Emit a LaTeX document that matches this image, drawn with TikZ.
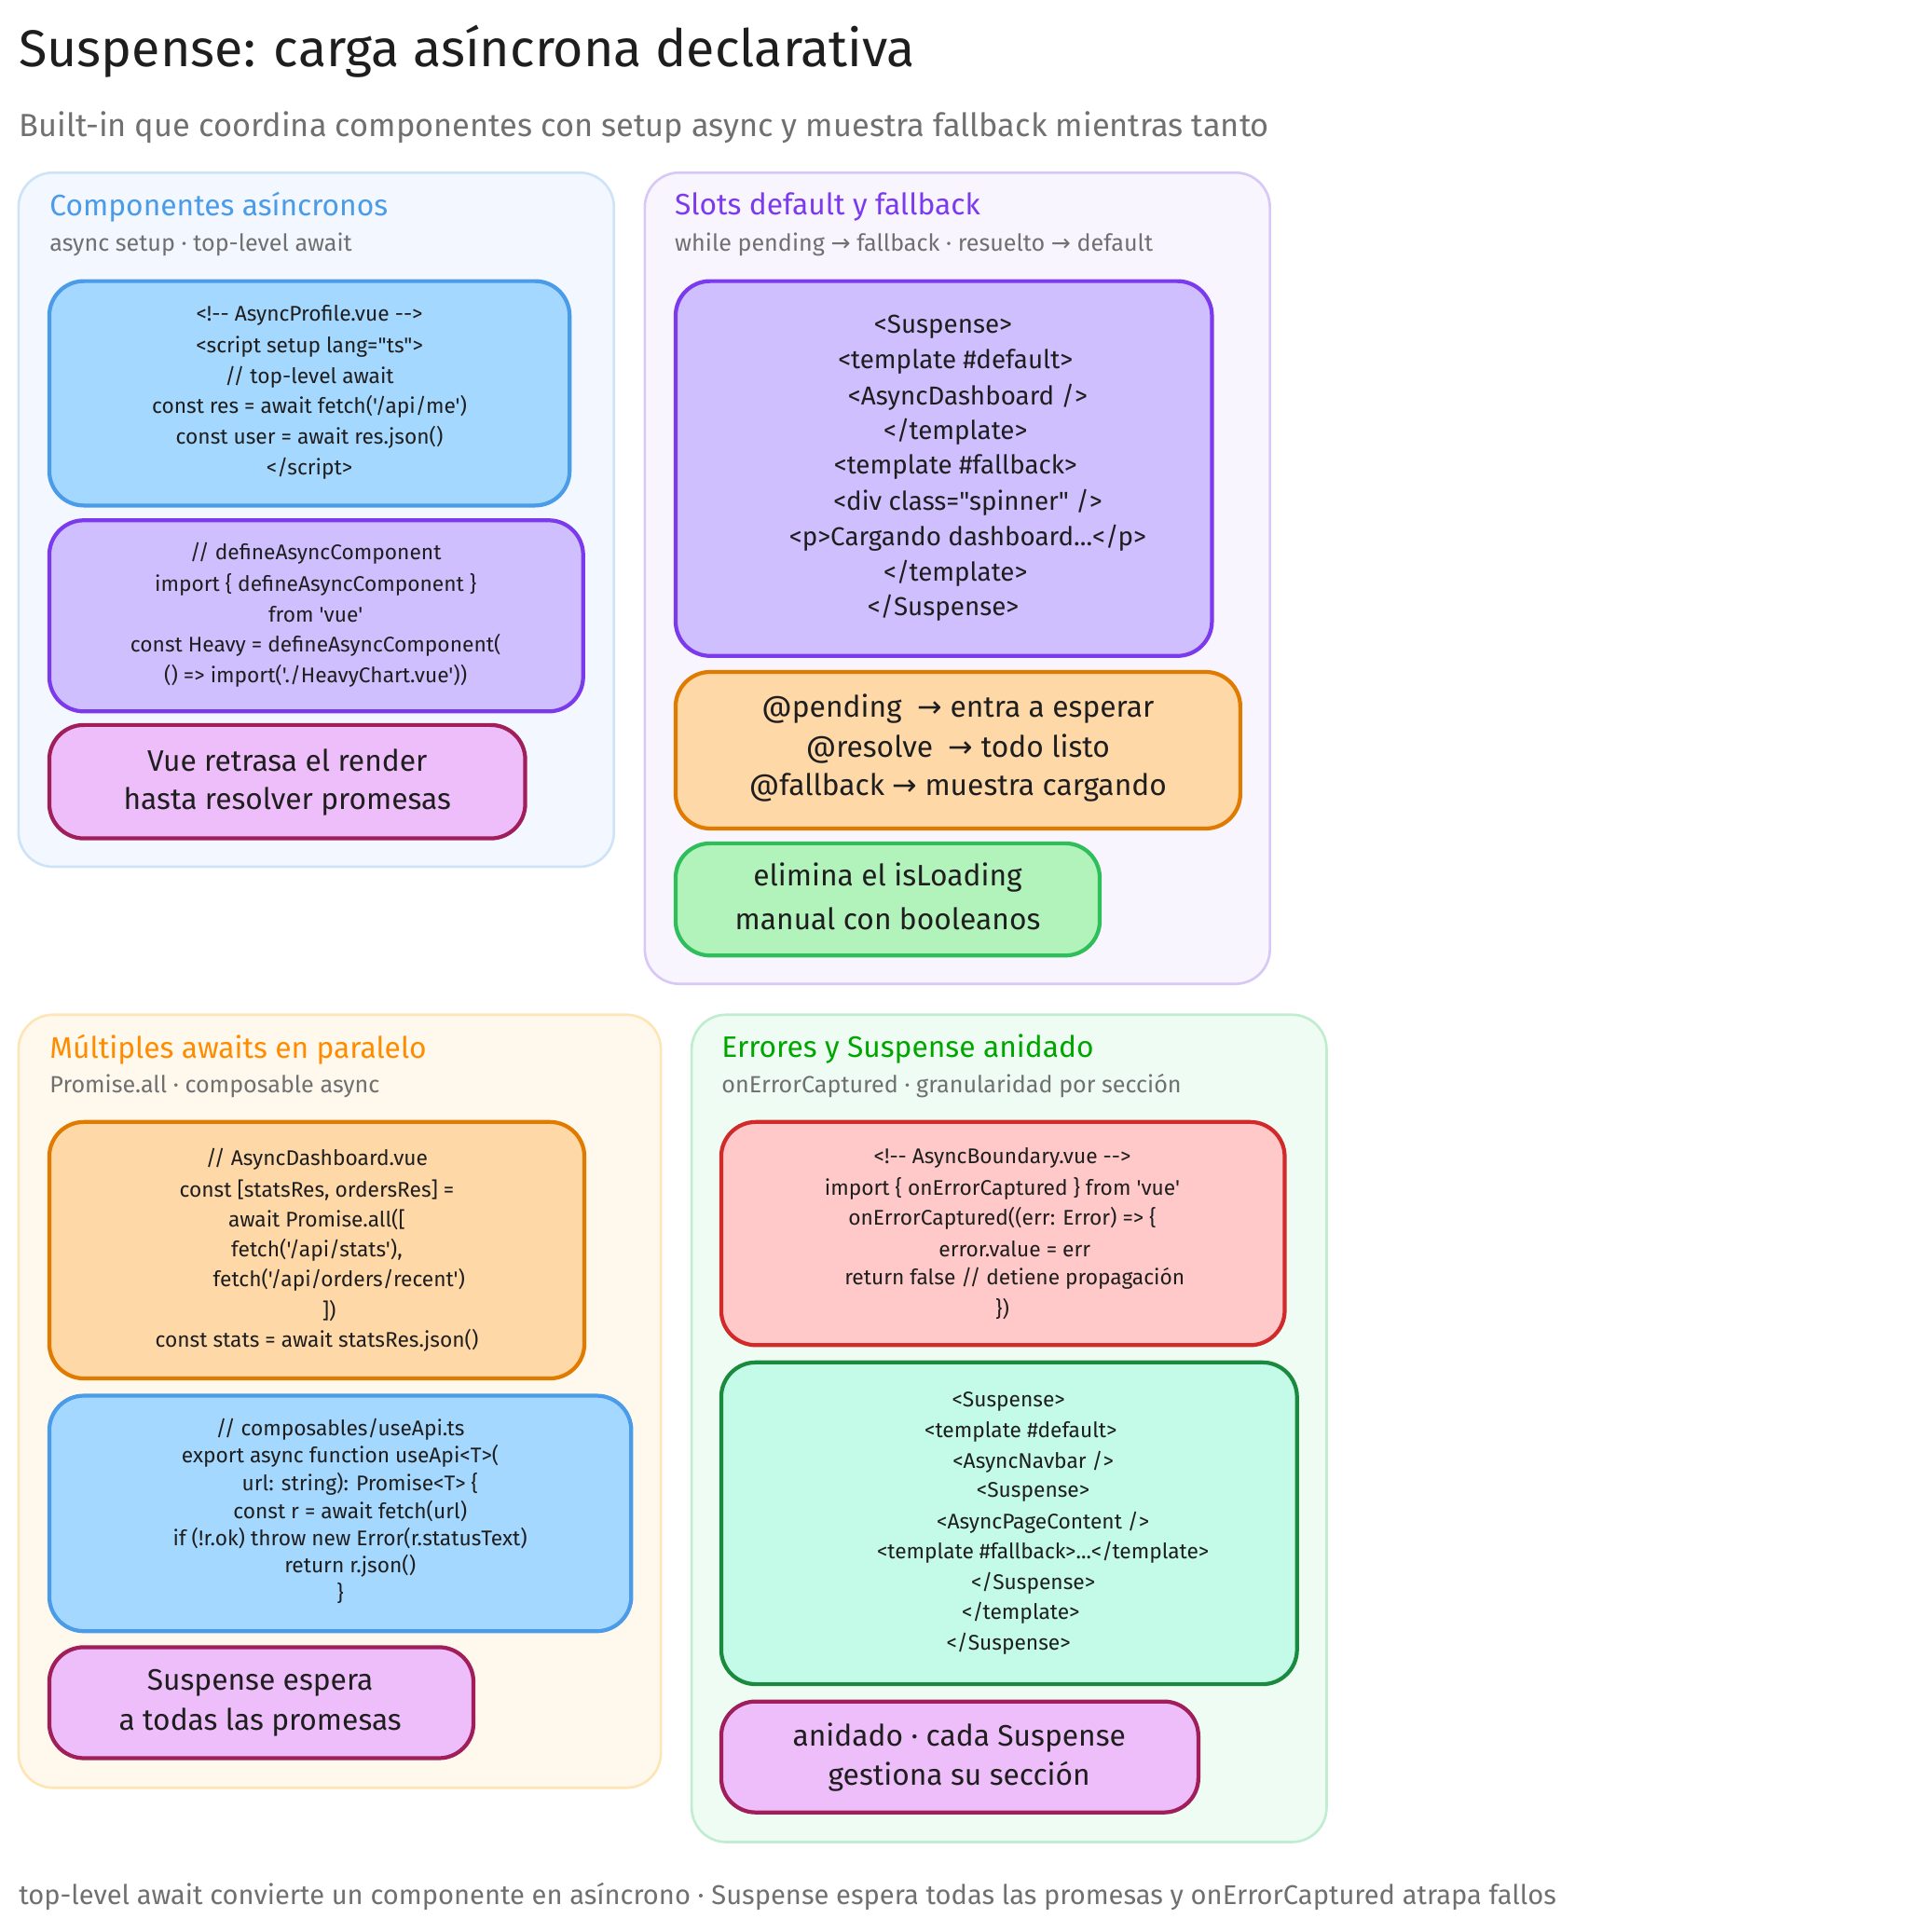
\documentclass[tikz,border=0pt]{standalone}
\usepackage{fontspec}
\setmainfont{Fira Sans}[Ligatures=TeXOff]
\newfontfamily\sym{DejaVu Sans}
\newcommand\ar{{\sym →}}
\definecolor{ink}{HTML}{1E1E1E}
\definecolor{gr}{HTML}{707070}
\definecolor{bluef}{HTML}{A5D8FF}\definecolor{blueb}{HTML}{4A9BE8}
\definecolor{vf}{HTML}{D0BFFF}\definecolor{vb}{HTML}{7C3AED}
\definecolor{pf}{HTML}{EEBEFA}\definecolor{pb}{HTML}{A01E5A}
\definecolor{of}{HTML}{FFD8A8}\definecolor{ob}{HTML}{E07B00}
\definecolor{gf}{HTML}{B2F2BB}\definecolor{gb}{HTML}{2FBF5A}
\definecolor{rf}{HTML}{FFC9C9}\definecolor{rb}{HTML}{D02A2A}
\definecolor{tf}{HTML}{C3FAE8}\definecolor{tb}{HTML}{1A8A3F}
\definecolor{p1f}{HTML}{F3F7FF}\definecolor{p1b}{HTML}{CFE3F7}
\definecolor{p2f}{HTML}{F8F5FF}\definecolor{p2b}{HTML}{D8C8F5}
\definecolor{p3f}{HTML}{FFF9ED}\definecolor{p3b}{HTML}{FDE5B5}
\definecolor{p4f}{HTML}{EEFCF3}\definecolor{p4b}{HTML}{C0ECD0}
\tikzset{
 panel/.style={draw=#1,line width=1pt,rounded corners=14pt},
 box/.style={draw=#1,line width=1.6pt,rounded corners=14pt},
 code/.style={font=\fontsize{8.6}{10}\selectfont,text=ink,anchor=center},
 dcode/.style={font=\fontsize{10.5}{12}\selectfont,text=ink,anchor=center},
 big/.style={font=\fontsize{12}{14}\selectfont,text=ink,anchor=center},
 ptitle/.style={font=\fontsize{12}{14}\selectfont,anchor=west,inner sep=0pt},
 psub/.style={font=\fontsize{9.5}{11}\selectfont,text=gr,anchor=west,inner sep=0pt},
}
\newcommand\mytxt[5]{\node[#1] (#2) at (#3,#4) {#5};}
\begin{document}
\begin{tikzpicture}[x=0.5pt,y=-0.5pt]
\useasboundingbox (0,0) rectangle (1566,1567);
\node[anchor=west,inner sep=0pt,font=\fontsize{21}{24}\selectfont,text=ink] (title) at (15,42) {Suspense: carga asíncrona declarativa};
\node[anchor=west,inner sep=0pt,font=\fontsize{13}{15}\selectfont,text=gr] (subtitle) at (15,103) {Built-in que coordina componentes con setup async y muestra fallback mientras tanto};
% panel 1
\draw[panel=p1b,fill=p1f] (15,140) rectangle (498,703);
\node[ptitle,text=blueb] (p1t) at (40,168) {Componentes asíncronos};
\node[psub] (p1s) at (40,198) {async setup · top-level await};
\draw[box=blueb,fill=bluef] (40,228) rectangle (462,410);
\mytxt{code}{a1}{251}{256}{<!-- AsyncProfile.vue -->}
\mytxt{code}{a2}{251}{281}{<script setup lang="ts">}
\mytxt{code}{a3}{251}{306}{// top-level await}
\mytxt{code}{a4}{251}{330}{const res = await fetch('/api/me')}
\mytxt{code}{a5}{251}{355}{const user = await res.json()}
\mytxt{code}{a6}{251}{380}{</script>}
\draw[box=vb,fill=vf] (40,422) rectangle (473,577);
\mytxt{code}{b1}{256}{449}{// defineAsyncComponent}
\mytxt{code}{b2}{256}{474}{import \{ defineAsyncComponent \}}
\mytxt{code}{b3}{256}{498}{from 'vue'}
\mytxt{code}{b4}{256}{523}{const Heavy = defineAsyncComponent(}
\mytxt{code}{b5}{256}{548}{() => import('./HeavyChart.vue'))}
\draw[box=pb,fill=pf] (40,588) rectangle (426,680);
\mytxt{big}{c1}{233}{617}{Vue retrasa el render}
\mytxt{big}{c2}{233}{650}{hasta resolver promesas}
% panel 2
\draw[panel=p2b,fill=p2f] (523,140) rectangle (1030,798);
\node[ptitle,text=vb] (p2t) at (547,168) {Slots default y fallback};
\node[psub] (p2s) at (547,198) {while pending \ar{} fallback · resuelto \ar{} default};
\draw[box=vb,fill=vf] (548,228) rectangle (983,532);
\mytxt{dcode}{d1}{765}{265}{<Suspense>}
\mytxt{dcode}{d2}{775}{293}{<template \#default>}
\mytxt{dcode}{d3}{785}{322}{<AsyncDashboard />}
\mytxt{dcode}{d4}{775}{350}{</template>}
\mytxt{dcode}{d5}{775}{379}{<template \#fallback>}
\mytxt{dcode}{d6}{785}{408}{<div class="spinner" />}
\mytxt{dcode}{d7}{785}{436}{<p>Cargando dashboard...</p>}
\mytxt{dcode}{d8}{775}{465}{</template>}
\mytxt{dcode}{d9}{765}{493}{</Suspense>}
\draw[box=ob,fill=of] (548,545) rectangle (1006,672);
\mytxt{big}{e1}{777}{575}{@pending\ \ \ar{} entra a esperar}
\mytxt{big}{e2}{777}{607}{@resolve\ \ \ar{} todo listo}
\mytxt{big}{e3}{777}{639}{@fallback \ar{} muestra cargando}
\draw[box=gb,fill=gf] (548,684) rectangle (892,775);
\mytxt{big}{f1}{720}{712}{elimina el isLoading}
\mytxt{big}{f2}{720}{745}{manual con booleanos}
% panel 3
\draw[panel=p3b,fill=p3f] (15,823) rectangle (536,1450);
\node[ptitle,text=orange!90!yellow] (p3t) at (40,851) {Múltiples awaits en paralelo};
\node[psub] (p3s) at (40,881) {Promise.all · composable async};
\draw[box=ob,fill=of] (40,910) rectangle (474,1118);
\mytxt{code}{g1}{257}{940}{// AsyncDashboard.vue}
\mytxt{code}{g2}{257}{965}{const [statsRes, ordersRes] =}
\mytxt{code}{g3}{257}{989}{await Promise.all([}
\mytxt{code}{g4}{257}{1014}{fetch('/api/stats'),}
\mytxt{code}{g5}{275}{1038}{fetch('/api/orders/recent')}
\mytxt{code}{g6}{267}{1063}{])}
\mytxt{code}{g7}{257}{1087}{const stats = await statsRes.json()}
\draw[box=blueb,fill=bluef] (40,1132) rectangle (512,1323);
\mytxt{code}{h1}{276}{1159}{// composables/useApi.ts}
\mytxt{code}{h2}{276}{1181}{export async function useApi<T>(}
\mytxt{code}{h3}{292}{1204}{url: string): Promise<T> \{}
\mytxt{code}{h4}{284}{1226}{const r = await fetch(url)}
\mytxt{code}{h5}{284}{1248}{if (!r.ok) throw new Error(r.statusText)}
\mytxt{code}{h6}{284}{1270}{return r.json()}
\mytxt{code}{h7}{276}{1292}{\}}
\draw[box=pb,fill=pf] (40,1336) rectangle (384,1426);
\mytxt{big}{i1}{211}{1365}{Suspense espera}
\mytxt{big}{i2}{211}{1397}{a todas las promesas}
% panel 4
\draw[panel=p4b,fill=p4f] (561,823) rectangle (1076,1494);
\node[ptitle,text=green!65!black] (p4t) at (585,851) {Errores y Suspense anidado};
\node[psub] (p4s) at (585,881) {onErrorCaptured · granularidad por sección};
\draw[box=rb,fill=rf] (585,910) rectangle (1042,1091);
\mytxt{code}{j1}{813}{939}{<!-- AsyncBoundary.vue -->}
\mytxt{code}{j2}{813}{964}{import \{ onErrorCaptured \} from 'vue'}
\mytxt{code}{j3}{813}{988}{onErrorCaptured((err: Error) => \{}
\mytxt{code}{j4}{823}{1013}{error.value = err}
\mytxt{code}{j5}{823}{1037}{return false // detiene propagación}
\mytxt{code}{j6}{813}{1062}{\})}
\draw[box=tb,fill=tf] (585,1105) rectangle (1052,1366);
\mytxt{code}{k1}{818}{1137}{<Suspense>}
\mytxt{code}{k2}{828}{1161}{<template \#default>}
\mytxt{code}{k3}{838}{1186}{<AsyncNavbar />}
\mytxt{code}{k4}{838}{1210}{<Suspense>}
\mytxt{code}{k5}{846}{1235}{<AsyncPageContent />}
\mytxt{code}{k6}{846}{1259}{<template \#fallback>...</template>}
\mytxt{code}{k7}{838}{1284}{</Suspense>}
\mytxt{code}{k8}{828}{1308}{</template>}
\mytxt{code}{k9}{818}{1333}{</Suspense>}
\draw[box=pb,fill=pf] (585,1380) rectangle (972,1470);
\mytxt{big}{l1}{778}{1409}{anidado · cada Suspense}
\mytxt{big}{l2}{778}{1441}{gestiona su sección}
\node[anchor=west,inner sep=0pt,font=\fontsize{11}{13}\selectfont,text=gr] (footer) at (15,1538) {top-level await convierte un componente en asíncrono · Suspense espera todas las promesas y onErrorCaptured atrapa fallos};
\end{tikzpicture}
\end{document}
